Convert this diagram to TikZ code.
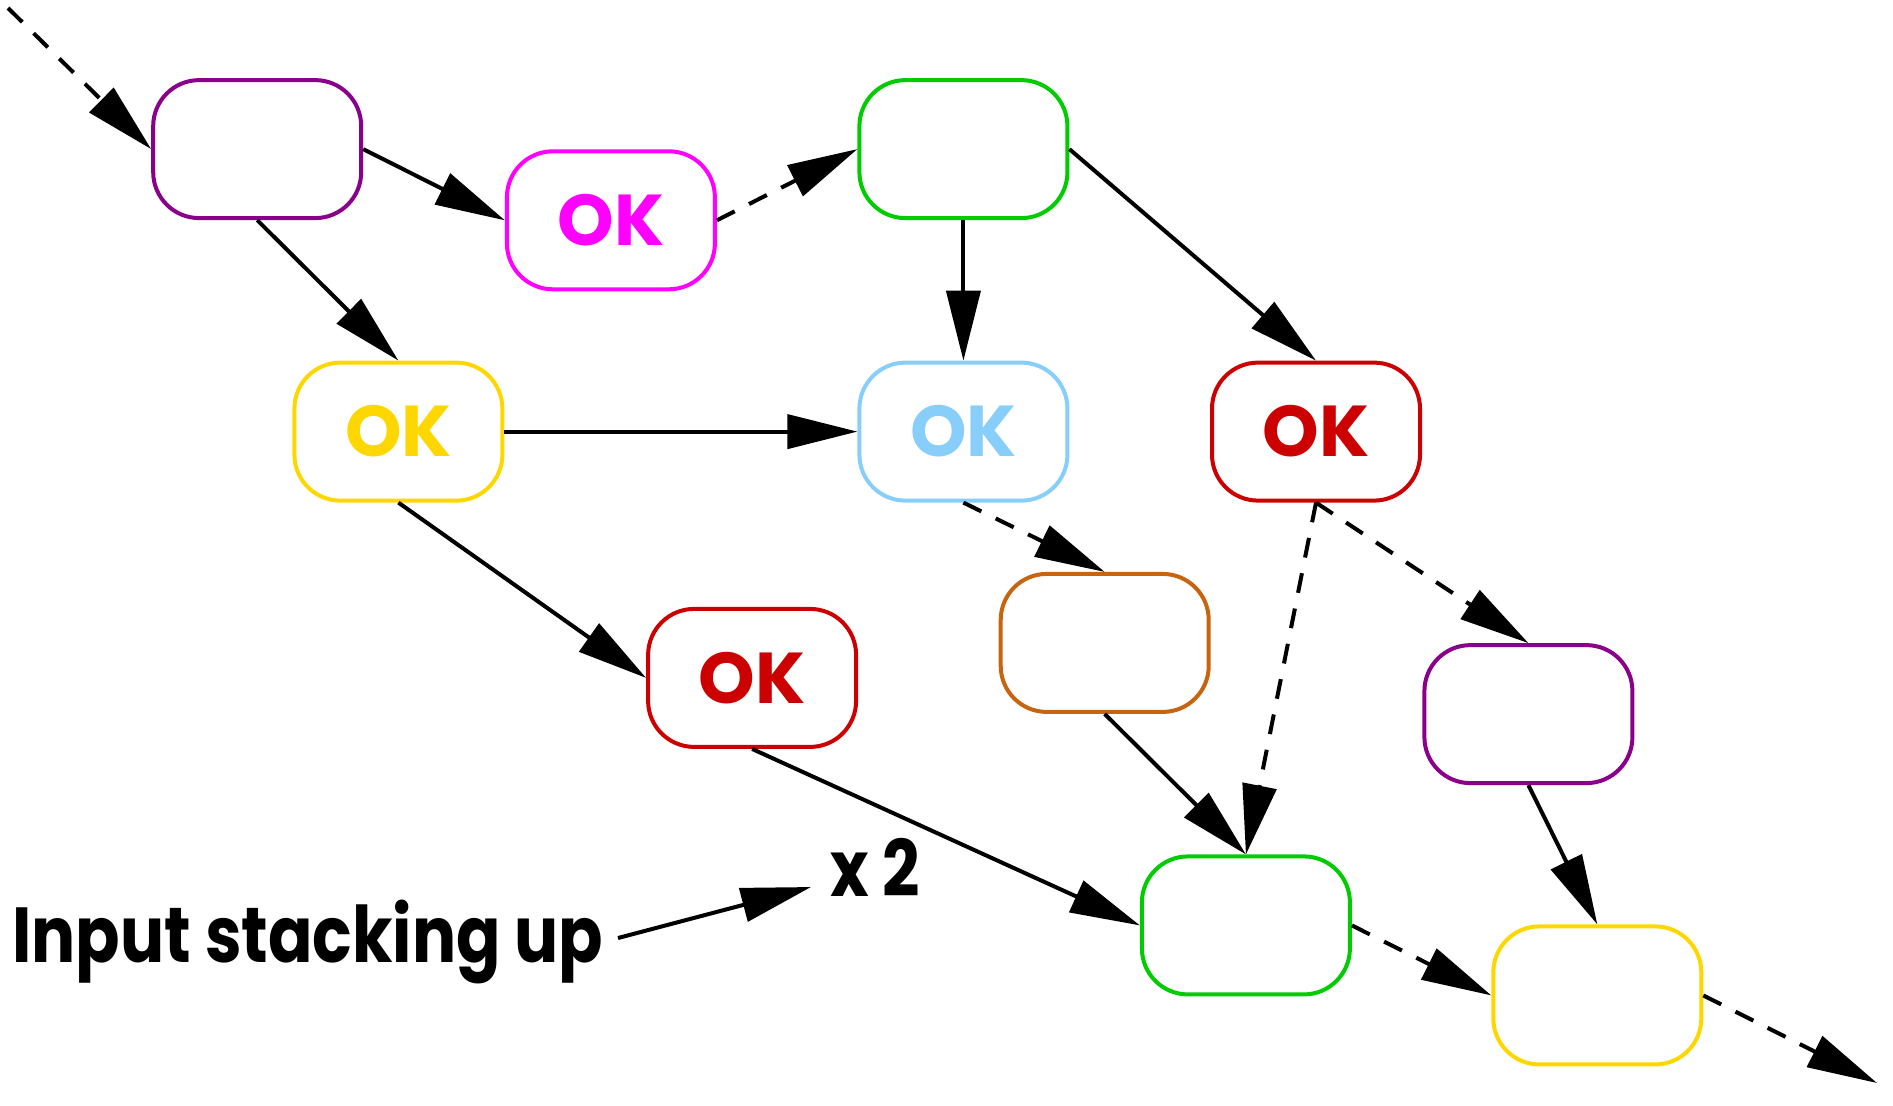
\documentclass[tikz,border=0pt]{standalone}
\usepackage{fontspec}
\setmainfont{Poppins}
\newfontfamily\condfont{Poppins}[FakeStretch=0.84]
\usetikzlibrary{arrows.meta}
\definecolor{cpurple}{HTML}{8B008B}
\definecolor{cmagenta}{HTML}{FF00FF}
\definecolor{cgreen}{HTML}{00CC00}
\definecolor{cyellow}{HTML}{FFD700}
\definecolor{cblue}{HTML}{87CEFA}
\definecolor{cred}{HTML}{CC0000}
\definecolor{corange}{HTML}{C8640F}
\begin{document}
\begin{tikzpicture}[x=0.5pt,y=-0.5pt,
  box/.style={draw=#1, text=#1, fill=white, line width=2pt, rounded corners=23pt,
    minimum width=104pt, minimum height=69pt, inner sep=0pt,
    font=\fontsize{36}{40}\selectfont\bfseries},
  conn/.style={line width=2pt, -{Triangle[length=35pt,width=17pt]}},
  dsh/.style={conn, dash pattern=on 10pt off 8pt},
  lbl/.style={inner sep=0pt, font=\condfont\fontsize{39}{42}\selectfont\bfseries}]
\useasboundingbox (0,0) rectangle (1893,1105);
\node[box=cpurple] (A) at (257.2,149.1) {};
\node[box=cmagenta] (B) at (610.9,220.3) {OK};
\node[box=cgreen] (C) at (963.4,149.1) {};
\node[box=cyellow] (D) at (398.4,431.6) {OK};
\node[box=cblue] (E) at (963.4,431.6) {OK};
\node[box=cred] (F) at (1316,431.6) {OK};
\node[box=cred] (G) at (752.1,677.9) {OK};
\node[box=corange] (H) at (1104.7,642.9) {};
\node[box=cpurple] (I) at (1528.4,714.1) {};
\node[box=cgreen] (J) at (1245.9,925.4) {};
\node[box=cyellow] (K) at (1597.3,995.4) {};
\coordinate (in) at (8,8);
\coordinate (out) at (1877,1083);
\draw[dsh] (in) -- (A.west);
\draw[conn] (A.east) -- (B.west);
\draw[conn] (A.south) -- (D.north);
\draw[dsh] (B.east) -- (C.west);
\draw[conn] (C.south) -- (E.north);
\draw[conn] (C.east) -- (F.north);
\draw[conn] (D.east) -- (E.west);
\draw[conn] (D.south) -- (G.west);
\draw[dsh] (E.south) -- (H.north);
\draw[dsh] (F.south) -- (J.north);
\draw[dsh] (F.south) -- (I.north);
\draw[conn] (G.south) -- (J.west);
\draw[conn] (H.south) -- (J.north);
\draw[conn] (I.south) -- (K.north);
\draw[dsh] (J.east) -- (K.west);
\draw[dsh] (K.east) -- (out);
\node[lbl, anchor=base west] (txt) at (12,962) {Input stacking up};
\node[lbl, anchor=base west] (x2) at (830,896) {x 2};
\coordinate (tstart) at (618,938);
\coordinate (ttip) at (811,887);
\draw[conn] (tstart) -- (ttip);
\end{tikzpicture}
\end{document}
